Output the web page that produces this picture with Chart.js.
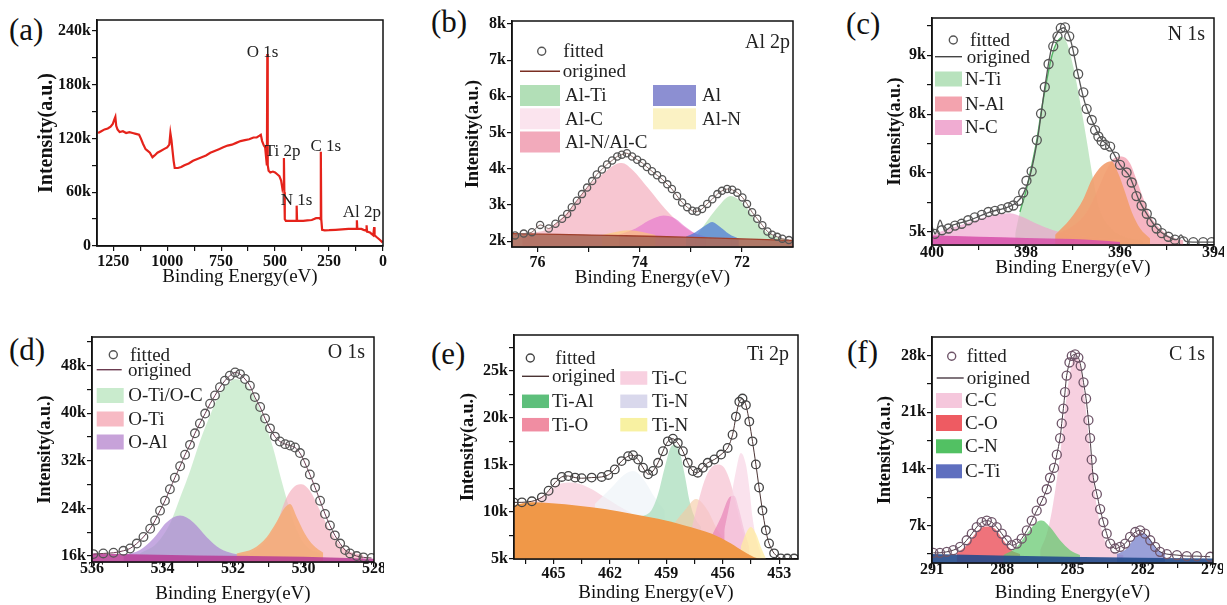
<!DOCTYPE html>
<html>
<head>
<meta charset="utf-8">
<script src="https://cdn.jsdelivr.net/npm/chart.js@4.4.1/dist/chart.umd.min.js"></script>
<style>
  html, body { margin: 0; padding: 0; background: #fff; width: 1227px; height: 605px; overflow: hidden; position: relative; }
  canvas { position: absolute; }
  .lbl { position: absolute; font: 31px 'Liberation Serif', 'Times New Roman', serif; color: #111; line-height: 1; }
</style>
</head>
<body>
<div class="lbl" style="left:9px;top:14px">(a)</div>
<div class="lbl" style="left:431px;top:6px">(b)</div>
<div class="lbl" style="left:846px;top:8px">(c)</div>
<div class="lbl" style="left:9px;top:334px">(d)</div>
<div class="lbl" style="left:431px;top:338px">(e)</div>
<div class="lbl" style="left:847px;top:336px">(f)</div>
<script>
const SERIF = "'Liberation Serif', 'Times New Roman', serif";

// ---- (a) survey spectrum, [binding energy, intensity in k]
const aSurvey = [[1320,126],[1305,128],[1290,130],[1275,131],[1262,133],[1252,136],[1245,141],[1240,144],[1236,134],[1230,130],
  [1220,127],[1205,128],[1190,126],[1175,127],[1160,126],[1145,125],[1130,124],[1122,120],[1112,114],[1100,108],[1090,106],
  [1080,104],[1068,99],[1058,101],[1045,104],[1030,106],[1015,108],[1000,110],[990,113],[985,126],[980,118],[975,106],
  [970,95],[965,87],[950,87],[935,88],[920,90],[900,92],[880,95],[860,97],[840,99],[820,101],[800,104],[780,106],[760,108],
  [740,110],[720,112],[700,113],[680,115],[660,117],[640,118],[620,119],[600,121],[585,121],[572,123],[566,124],[560,117],
  [552,112],[546,110],[541,97],[538,90],[536,214],[534,90],[530,84],[522,82],[510,83],[500,82],[490,80],[480,78],[472,73],
  [466,64],[462,68],[459,98],[457,60],[455,30],[450,28],[430,28],[410,28],[402,28],[400,45],[398,28],[390,28],[370,28],
  [350,28.5],[330,29],[310,31],[295,31],[290,30],[288,105],[286,30],[282,18],[270,17.5],[250,17.6],[220,18],[190,18.5],
  [160,19],[130,19],[122,19],[121,28.6],[119,19],[100,19],[90,18],[78,17],[76,23],[74,16],[60,15],[45,12],[41,21],[39,12],
  [30,10],[15,7],[2,4]];
const aNoteText = ['O 1s', 'Ti 2p', 'C 1s', 'N 1s', 'Al 2p'];
const aNoteX = [558, 465, 265, 400, 98];
const aNoteY = [216, 105.7, 111, 50.6, 37.4];
const aXTicks = [0,125,250,375,500,625,750,875,1000,1125,1250];
const aXMajor = [0,250,500,750,1000,1250];
const aYTicks = [0,30,60,90,120,150,180,210,240];
const aYMajor = [0,60,120,180,240];
const aYText = ['0','60k','120k','180k','240k'];

// ---- (b) Al 2p
const bFit = [[76.44,2.16],[76.27,2.21],[76.11,2.25],[75.95,2.45],[75.78,2.35],[75.65,2.48],[75.52,2.62],[75.42,2.75],
  [75.33,2.94],[75.23,3.12],[75.13,3.30],[75.03,3.48],[74.93,3.66],[74.84,3.84],[74.74,3.98],[74.64,4.12],[74.54,4.23],
  [74.44,4.34],[74.35,4.39],[74.25,4.43],[74.15,4.34],[74.05,4.25],[73.95,4.16],[73.86,4.05],[73.76,3.93],[73.66,3.82],
  [73.56,3.71],[73.46,3.57],[73.37,3.44],[73.27,3.25],[73.17,3.07],[73.07,2.94],[72.97,2.84],[72.88,2.82],[72.78,2.89],
  [72.68,3.03],[72.58,3.16],[72.48,3.30],[72.39,3.39],[72.29,3.44],[72.19,3.42],[72.09,3.34],[71.99,3.21],[71.90,3.03],
  [71.80,2.80],[71.70,2.62],[71.60,2.44],[71.50,2.27],[71.41,2.18],[71.31,2.12],[71.21,2.07],[71.08,2.03]];
const bBase = [[76.57,2.21],[75.59,2.19],[74.61,2.16],[73.63,2.13],[72.65,2.09],[71.67,2.05],[71.0,2.02]];
const bAlNAlC = [[76.3,2.2],[75.78,2.35],[75.39,2.84],[75.06,3.44],[74.74,3.84],[74.48,4.12],[74.35,4.16],[74.15,3.98],
  [73.82,3.44],[73.50,2.89],[73.17,2.44],[72.91,2.21],[72.52,2.09],[72.2,2.05]];
const bAlC = [[74.41,2.18],[74.08,2.35],[73.82,2.57],[73.53,2.71],[73.30,2.62],[73.10,2.39],[72.91,2.21],[72.71,2.12]];
const bAl = [[73.10,2.12],[72.91,2.25],[72.71,2.44],[72.58,2.53],[72.45,2.42],[72.25,2.2],[72.06,2.07]];
const bAlTi = [[72.91,2.10],[72.65,2.62],[72.45,2.98],[72.22,3.25],[72.0,3.07],[71.80,2.71],[71.61,2.35],[71.35,2.12],[71.08,2.03]];
const bAlN = [[74.74,2.17],[74.21,2.30],[73.69,2.17]];
const bXTicks = [72,73,74,75,76];
const bXMajor = [72,74,76];
const bYTicks = [2,3,4,5,6,7,8];
const bYText = ['2k','3k','4k','5k','6k','7k','8k'];

// ---- (c) N 1s (y in axis units: 5->5k, 6->6k, 7->8k, 8->9k as printed)
const cFit = [[399.94,4.97],[399.79,5.03],[399.65,5.06],[399.51,5.11],[399.37,5.14],[399.23,5.20],[399.09,5.25],[398.94,5.29],
  [398.80,5.34],[398.66,5.36],[398.52,5.39],[398.38,5.42],[398.27,5.45],[398.16,5.53],[398.06,5.67],[397.99,5.87],
  [397.88,6.03],[397.77,6.56],[397.68,7.01],[397.60,7.46],[397.52,7.85],[397.42,8.15],[397.33,8.32],[397.26,8.46],
  [397.17,8.47],[397.08,8.32],[396.99,8.07],[396.89,7.68],[396.78,7.37],[396.71,7.09],[396.60,6.90],[396.53,6.73],
  [396.46,6.62],[396.39,6.54],[396.32,6.48],[396.21,6.45],[396.11,6.28],[396.00,6.14],[395.86,6.01],[395.75,5.84],
  [395.65,5.61],[395.54,5.45],[395.43,5.31],[395.33,5.17],[395.22,5.06],[395.11,4.98],[394.97,4.92],[394.83,4.87],
  [394.65,4.84],[394.44,4.83],[394.23,4.83],[394.05,4.83]];
const cLine = [[400,5.1],[399.93,4.97],[399.83,5.2],[399.72,5.03],[399.55,5.12],[399.2,5.2],[398.8,5.33],[398.4,5.42],
  [398.2,5.5],[398.05,5.66],[397.9,6.0],[397.75,6.6],[397.6,7.45],[397.45,8.15],[397.3,8.42],[397.18,8.46],[397.05,8.25],
  [396.9,7.7],[396.75,7.2],[396.6,6.9],[396.4,6.58],[396.2,6.42],[396.0,6.14],[395.8,5.95],[395.6,5.55],[395.4,5.27],
  [395.2,5.05],[395.0,4.93],[394.8,4.87],[394.7,4.95],[394.6,4.84],[394.3,4.83],[394,4.83]];
const cStrip = [[400,4.94],[399,4.92],[398,4.90],[397,4.88],[396.5,4.86],[396,4.83]];
const cNC = [[400,4.955],[399.62,5.06],[399.19,5.17],[398.77,5.27],[398.34,5.32],[398.06,5.25],[397.77,5.14],[397.42,5.03],
  [397.06,4.96],[396.50,4.90],[395.79,4.86]];
const cNTi = [[398.23,4.97],[398.13,5.34],[397.99,5.73],[397.88,6.12],[397.77,6.56],[397.67,7.07],[397.56,7.57],[397.45,7.99],
  [397.35,8.21],[397.24,8.31],[397.13,8.21],[396.99,7.79],[396.85,7.21],[396.71,6.56],[396.57,5.89],[396.43,5.39],
  [396.21,5.08],[395.93,4.93],[395.50,4.86]];
const cNAl = [[397.35,4.97],[396.99,5.11],[396.71,5.34],[396.50,5.67],[396.28,6.06],[396.11,6.26],[395.96,6.28],[395.79,6.17],
  [395.65,5.89],[395.50,5.56],[395.36,5.28],[395.15,5.06],[394.94,4.93],[394.65,4.86]];
const cOrange = [[397.38,4.955],[397.06,5.22],[396.78,5.56],[396.60,5.89],[396.39,6.12],[396.18,6.20],[396.04,6.0],
  [395.89,5.67],[395.75,5.34],[395.57,5.06],[395.36,4.89]];
const cXTicks = [394,395,396,397,398,399,400];
const cXMajor = [394,396,398,400];
const cYTicks = [5,5.5,6,6.5,7,7.5,8,8.5];
const cYMajor = [5,6,7,8];
const cYText = ['5k','6k','8k','9k'];

// ---- (d) O 1s
const dFit = [[535.96,16.33],[535.68,16.44],[535.39,16.55],[535.11,16.88],[534.92,17.27],[534.73,18.10],[534.54,19.21],
  [534.35,20.59],[534.21,21.97],[534.07,23.63],[533.93,25.29],[533.79,27.22],[533.65,29.16],[533.50,31.09],[533.36,33.03],
  [533.22,34.68],[533.08,36.62],[532.94,38.28],[532.79,39.94],[532.65,41.59],[532.51,42.98],[532.37,44.36],[532.23,45.46],
  [532.09,46.29],[531.94,46.85],[531.80,46.57],[531.66,45.74],[531.52,44.63],[531.38,42.70],[531.23,41.04],[531.09,39.11],
  [530.95,37.45],[530.81,36.07],[530.67,35.24],[530.52,34.80],[530.38,34.57],[530.24,34.24],[530.10,33.30],[529.96,31.64],
  [529.82,29.71],[529.67,27.50],[529.53,25.29],[529.39,23.08],[529.25,21.14],[529.11,19.48],[528.96,18.10],[528.82,17.00],
  [528.68,16.44],[528.49,16.00],[528.30,15.78],[528.07,15.67]];
const dStrip = [[536,16.44],[533,16.11],[530,15.89],[528,15.56]];
const dOTiOC = [[534.64,16.44],[534.17,18.10],[533.79,21.42],[533.50,25.84],[533.22,30.26],[532.94,35.24],[532.65,39.66],
  [532.37,43.25],[532.09,45.19],[531.94,45.74],[531.71,45.19],[531.42,42.98],[531.14,39.11],[530.86,34.13],[530.62,28.60],
  [530.38,23.63],[530.15,19.76],[529.91,17.55],[529.53,16.44]];
const dOAl = [[535.11,16.17],[534.64,17.0],[534.26,18.93],[533.88,21.69],[533.50,22.80],[533.13,21.69],[532.75,19.21],
  [532.37,17.27],[532.0,16.44],[531.52,16.17]];
const dOTi = [[531.52,16.44],[531.14,18.10],[530.77,21.42],[530.48,25.84],[530.24,27.77],[530.05,28.05],[529.82,26.95],
  [529.53,23.63],[529.25,20.31],[528.96,17.82],[528.68,16.72],[528.30,16.17]];
const dOrange = [[531.90,16.44],[531.42,17.27],[531.04,19.21],[530.77,21.69],[530.52,24.18],[530.38,24.73],[530.19,22.52],
  [529.96,19.76],[529.72,17.82],[529.44,16.55]];
const dXTicks = [528,529,530,531,532,533,534,535,536];
const dXMajor = [528,530,532,534,536];
const dYTicks = [16,20,24,28,32,36,40,44,48,52];
const dYMajor = [16,24,32,40,48];
const dYText = ['16k','24k','32k','40k','48k'];

// ---- (e) Ti 2p
const eFit = [[467.12,11.02],[466.68,11.02],[466.15,11.13],[465.62,11.55],[465.26,12.25],[464.91,13.12],[464.56,13.72],
  [464.21,13.82],[463.85,13.65],[463.50,13.58],[462.97,13.65],[462.44,13.72],[462.09,13.93],[461.74,14.52],[461.38,15.40],
  [461.03,15.92],[460.77,16.03],[460.50,15.57],[460.24,14.70],[459.97,14.00],[459.71,14.35],[459.44,15.22],[459.18,16.45],
  [458.92,17.50],[458.65,17.78],[458.39,17.32],[458.12,16.45],[457.86,15.22],[457.59,14.35],[457.33,14.17],[457.06,14.70],
  [456.80,15.22],[456.45,15.57],[456.09,16.10],[455.74,16.80],[455.48,18.20],[455.30,20.13],[455.12,21.70],[454.95,22.05],
  [454.77,21.35],[454.59,19.60],[454.42,17.50],[454.24,15.05],[454.07,12.60],[453.89,10.15],[453.71,8.05],[453.54,6.65],
  [453.27,5.60],[452.92,5.07],[452.57,5.05],[452.21,5.05]];
const eBase = [[467.2,10.67],[466.15,11.02],[465.09,10.92],[463.68,10.67],[462.27,10.32],[460.86,9.80],[459.44,9.27],
  [458.03,8.57],[456.62,7.70],[455.56,6.65],[454.86,5.77],[454.15,5.07],[453.8,5.0]];
const eTiCLeft = [[466.15,11.02],[465.44,11.90],[464.74,12.95],[464.03,13.12],[463.15,12.60],[462.27,11.55],[461.56,10.67],[460.86,9.87]];
const eTiNPale = [[462.80,10.85],[461.91,12.60],[461.21,14.0],[460.77,14.35],[460.15,13.30],[459.62,11.55],[459.09,10.15]];
const eTiAl = [[460.50,9.45],[459.80,10.15],[459.44,11.90],[459.09,14.70],[458.74,16.97],[458.56,17.15],[458.30,16.45],
  [458.03,14.00],[457.77,11.20],[457.50,9.45],[457.15,8.40]];
const ePeach = [[458.74,8.40],[458.03,10.15],[457.42,11.37],[456.80,10.15],[456.27,8.05],[455.74,6.65]];
const eTiO = [[457.68,8.05],[457.33,10.85],[456.98,13.30],[456.62,14.70],[456.27,15.05],[455.92,14.70],[455.56,12.95],
  [455.30,10.85],[455.04,8.75],[454.86,7.35],[454.68,5.95]];
const eTiO2 = [[456.62,7.35],[456.09,9.45],[455.65,11.55],[455.39,11.72],[455.12,10.15],[454.86,8.05],[454.59,6.30]];
const eTiC = [[455.92,8.05],[455.56,11.55],[455.30,14.35],[455.04,16.27],[454.77,15.05],[454.59,12.60],[454.42,9.45],
  [454.24,7.35],[453.98,5.60]];
const eTiN = [[455.04,6.30],[454.77,7.70],[454.51,8.40],[454.24,7.70],[453.98,6.30],[453.71,5.07]];
const eXTicks = [453,454.5,456,457.5,459,460.5,462,463.5,465,466.5];
const eXMajor = [453,456,459,462,465];
const eYTicks = [5,7.5,10,12.5,15,17.5,20,22.5,25,27.5];
const eYMajor = [5,10,15,20,25];
const eYText = ['5k','10k','15k','20k','25k'];

// ---- (f) C 1s
const fFit = [[290.94,3.62],[290.66,3.62],[290.37,3.74],[290.09,3.95],[289.80,4.35],[289.52,5.17],[289.30,5.98],[289.09,6.80],
  [288.88,7.41],[288.66,7.61],[288.45,7.41],[288.24,6.80],[288.02,5.98],[287.81,5.17],[287.60,4.56],[287.38,4.76],
  [287.17,5.37],[286.95,6.39],[286.74,7.61],[286.53,8.83],[286.31,10.05],[286.10,11.48],[285.96,12.90],[285.79,14.12],
  [285.67,15.75],[285.53,17.79],[285.46,19.62],[285.39,21.45],[285.32,23.48],[285.25,25.52],[285.13,27.15],[285.03,27.96],
  [284.89,28.16],[284.75,27.76],[284.65,26.74],[284.53,24.70],[284.42,22.67],[284.32,20.02],[284.25,17.79],[284.18,15.14],
  [284.11,12.90],[283.96,10.87],[283.82,9.03],[283.68,7.41],[283.54,5.98],[283.39,4.76],[283.18,4.15],[282.97,4.35],
  [282.75,4.76],[282.54,5.58],[282.32,6.19],[282.11,6.39],[281.90,5.98],[281.68,5.17],[281.47,4.35],[281.26,3.74],
  [280.97,3.46],[280.54,3.34],[280.12,3.21],[279.69,3.21],[279.12,3.13]];
const fStrip = [[291,3.46],[285.3,3.13],[279,2.93]];
const fCO = [[289.95,3.54],[289.52,4.56],[289.09,6.19],[288.81,6.80],[288.59,6.88],[288.31,6.59],[287.95,5.17],[287.60,3.95],[287.24,3.46]];
const fCN = [[287.95,3.34],[287.38,4.35],[286.95,5.98],[286.53,7.41],[286.31,7.61],[285.96,6.80],[285.53,5.17],[285.10,3.95],[284.68,3.34]];
const fCC = [[286.38,3.95],[286.10,5.98],[285.89,8.63],[285.70,12.09],[285.53,15.75],[285.39,19.41],[285.25,23.08],[285.10,25.93],
  [284.96,27.55],[284.82,27.76],[284.68,26.74],[284.53,23.89],[284.39,20.23],[284.25,16.16],[284.11,12.49],[283.96,9.24],
  [283.75,6.39],[283.54,4.56],[283.25,3.62],[282.82,3.34]];
const fCTi = [[283.11,3.46],[282.68,4.15],[282.32,5.58],[282.04,6.06],[281.75,5.58],[281.40,4.15],[281.04,3.46]];
const fXTicks = [279,280.5,282,283.5,285,286.5,288,289.5,291];
const fXMajor = [279,282,285,288,291];
const fYTicks = [3.5,7,10.5,14,17.5,21,24.5,28];
const fYMajor = [7,14,21,28];
const fYText = ['7k','14k','21k','28k'];

// ---------- helpers
const pts = a => a.map(p => ({ x: p[0], y: p[1] }));
const area = (d, color, extra) => Object.assign({ data: pts(d), fill: 'start', backgroundColor: color, borderWidth: 0,
  pointRadius: 0, cubicInterpolationMode: 'monotone' }, extra || {});
const circles = (d, color, r) => ({ data: pts(d), showLine: false, pointRadius: r, pointStyle: 'circle',
  pointBorderColor: color, pointBackgroundColor: 'rgba(0,0,0,0)', pointBorderWidth: 1.3 });
const line = (d, color, w) => ({ data: pts(d), borderColor: color, borderWidth: w, pointRadius: 0, fill: false, tension: 0.3 });
const label = (v, major, text) => { const i = major.indexOf(v); return i < 0 ? '' : (text ? text[i] : String(v)); };

const decor = {
  id: 'xpsDecor',
  afterDatasetsDraw(chart, args, o) {
    const { ctx, chartArea: a, scales } = chart;
    ctx.save();
    ctx.strokeStyle = '#111';
    ctx.lineWidth = 1.5;
    ctx.strokeRect(a.left, a.top, a.right - a.left, a.bottom - a.top);
    ctx.textBaseline = 'middle';
    ctx.fillStyle = '#222';
    if (o.corner) {
      ctx.font = '20px ' + SERIF;
      ctx.textAlign = 'right';
      ctx.fillText(o.corner, a.right - o.cornerDx, a.top + o.cornerY);
    }
    if (o.notes) {
      ctx.font = '17px ' + SERIF;
      ctx.textAlign = 'center';
      o.notes.text.forEach((t, i) => {
        ctx.fillText(t, scales.x.getPixelForValue(o.notes.x[i]), scales.y.getPixelForValue(o.notes.y[i]));
      });
    }
    (o.legend || []).forEach(it => {
      const x = a.left + it.x, y = a.top + it.y;
      if (it.k === 'c') {
        ctx.beginPath(); ctx.arc(x, y, 4, 0, Math.PI * 2);
        ctx.strokeStyle = it.c; ctx.lineWidth = 1.4; ctx.stroke();
      } else if (it.k === 'l') {
        ctx.beginPath(); ctx.moveTo(x, y); ctx.lineTo(x + it.w, y);
        ctx.strokeStyle = it.c; ctx.lineWidth = 1.4; ctx.stroke();
      } else {
        ctx.fillStyle = it.c; ctx.fillRect(x, y - it.h / 2, it.w, it.h);
      }
      ctx.fillStyle = '#222';
      ctx.textAlign = 'left';
      ctx.font = '19px ' + SERIF;
      ctx.fillText(it.t, a.left + it.tx, y + 1);
    });
    ctx.restore();
  }
};

const LEFT = 72, TOP = 6, RIGHT = 10, BOTTOM = 50;

function addPanel(p) {
  const cv = document.createElement('canvas');
  const w = p.area[2] - p.area[0] + LEFT + RIGHT;
  const h = p.area[3] - p.area[1] + TOP + BOTTOM;
  cv.width = w; cv.height = h;
  cv.style.width = w + 'px'; cv.style.height = h + 'px';
  cv.style.left = (p.area[0] - LEFT) + 'px';
  cv.style.top = (p.area[1] - TOP) + 'px';
  document.body.appendChild(cv);
  const tickFont = { family: SERIF, size: 16, weight: 'bold', lineHeight: 1 };
  new Chart(cv, {
    type: 'line',
    data: { datasets: p.datasets },
    options: {
      responsive: false, animation: false, devicePixelRatio: 1,
      layout: { padding: { left: 0, top: TOP, right: RIGHT, bottom: 0 } },
      plugins: { legend: { display: false }, tooltip: { enabled: false }, xpsDecor: p.decor },
      scales: {
        x: {
          type: 'linear', reverse: true, min: p.x[0], max: p.x[1],
          afterFit: s => { s.height = BOTTOM; },
          afterBuildTicks: s => { s.ticks = p.xTicks.map(v => ({ value: v })); },
          ticks: { callback: v => label(v, p.xMajor), font: tickFont, color: '#111', padding: p.xPad, maxRotation: 0, autoSkip: false },
          grid: { drawOnChartArea: false, tickLength: 5, color: '#111', lineWidth: 1.2 },
          border: { color: '#111', width: 1.5 },
          title: { display: true, text: 'Binding Energy(eV)', color: '#111', font: { family: SERIF, size: 19 },
                   padding: { top: 0, bottom: p.xTitlePad } }
        },
        y: {
          type: 'linear', min: p.y[0], max: p.y[1],
          afterFit: s => { s.width = LEFT; },
          afterBuildTicks: s => { s.ticks = p.yTicks.map(v => ({ value: v })); },
          ticks: { callback: v => label(v, p.yMajor, p.yText), font: tickFont, color: '#111', padding: 1, autoSkip: false },
          grid: { drawOnChartArea: false, tickLength: 5, color: '#111', lineWidth: 1.2 },
          border: { color: '#111', width: 1.5 },
          title: { display: true, text: 'Intensity(a.u.)', color: '#111',
                   font: { family: SERIF, size: p.yTitleSize || 18, weight: 'bold' },
                   padding: { top: p.yTitlePad, bottom: 0 } }
        }
      }
    },
    plugins: [decor]
  });
}

// (a)
addPanel({
  area: [97, 17, 383, 246], x: [0, 1325], y: [0, 252],
  xTicks: aXTicks, xMajor: aXMajor, yTicks: aYTicks, yMajor: aYMajor, yText: aYText,
  xPad: 3, xTitlePad: 7.6, yTitlePad: 10, yTitleSize: 20,
  decor: { notes: { text: aNoteText, x: aNoteX, y: aNoteY } },
  datasets: [ { data: pts(aSurvey), borderColor: '#e5231b', borderWidth: 2.2, pointRadius: 0, tension: 0, fill: false } ]
});

// (b)
addPanel({
  area: [512, 18, 793, 247], x: [71.0, 76.5], y: [1.84, 8.08],
  xTicks: bXTicks, xMajor: bXMajor, yTicks: bYTicks, yMajor: bYTicks, yText: bYText,
  xPad: 3, xTitlePad: 7.6, yTitlePad: 22.2,
  decor: {
    corner: 'Al 2p', cornerDx: 3, cornerY: 22,
    legend: [
      { k: 'c', x: 29.7, y: 30.3, tx: 51.3, t: 'fitted', c: '#555' },
      { k: 'l', x: 8, w: 40, y: 50.3, tx: 50.7, t: 'origined', c: '#7a2e22' },
      { k: 'b', x: 8, w: 40, y: 74.5, h: 21, tx: 53, t: 'Al-Ti', c: 'rgba(170,220,175,0.9)' },
      { k: 'b', x: 8, w: 40, y: 97.8, h: 21, tx: 53, t: 'Al-C', c: '#fbe4ee' },
      { k: 'b', x: 8, w: 40, y: 121, h: 21, tx: 53, t: 'Al-N/Al-C', c: '#f2aabb' },
      { k: 'b', x: 141, w: 43, y: 74.5, h: 21, tx: 190, t: 'Al', c: '#8c8fd2' },
      { k: 'b', x: 141, w: 43, y: 97.8, h: 21, tx: 190, t: 'Al-N', c: '#fbf2c4' }
    ]
  },
  datasets: [
    circles(bFit, '#555', 3.6),
    line(bFit, '#8a6a66', 1),
    area(bBase, 'rgba(172,108,92,0.9)', { borderWidth: 1.3, borderColor: '#a0402c' }),
    area(bAlN, 'rgba(255,205,110,0.6)'),
    area(bAl, 'rgba(80,125,215,0.75)'),
    area(bAlC, 'rgba(228,110,205,0.6)'),
    area(bAlTi, 'rgba(170,222,172,0.65)'),
    area(bAlNAlC, 'rgba(242,160,178,0.6)')
  ]
});

// (c)
addPanel({
  area: [932, 15, 1214, 245], x: [394, 400], y: [4.78, 8.63],
  xTicks: cXTicks, xMajor: cXMajor, yTicks: cYTicks, yMajor: cYMajor, yText: cYText,
  xPad: -5, xTitlePad: 15.6, yTitlePad: 24.2,
  decor: {
    corner: 'N 1s', cornerDx: 9, cornerY: 17,
    legend: [
      { k: 'c', x: 21.3, y: 22, tx: 38, t: 'fitted', c: '#555' },
      { k: 'l', x: 3, w: 27, y: 38.7, tx: 34.7, t: 'origined', c: '#444' },
      { k: 'b', x: 3, w: 27, y: 61, h: 15, tx: 33, t: 'N-Ti', c: '#b8e2bd' },
      { k: 'b', x: 3, w: 27, y: 86, h: 15, tx: 33, t: 'N-Al', c: '#f3a3ae' },
      { k: 'b', x: 3, w: 27, y: 109.5, h: 15, tx: 33, t: 'N-C', c: '#f0acd2' }
    ]
  },
  datasets: [
    circles(cFit, '#555', 4.5),
    line(cLine, '#555', 1.3),
    Object.assign(line(cNTi.slice(1, 10), 'rgba(60,170,80,0.85)', 1.4), { cubicInterpolationMode: 'monotone' }),
    area(cStrip, 'rgba(215,80,170,0.85)'),
    area(cOrange, 'rgba(242,160,112,0.92)'),
    area(cNAl, 'rgba(242,150,168,0.7)'),
    area(cNC, 'rgba(238,160,205,0.65)'),
    area(cNTi, 'rgba(172,222,176,0.7)')
  ]
});

// (d)
addPanel({
  area: [92, 334, 374, 562], x: [528, 536], y: [15.0, 52.8],
  xTicks: dXTicks, xMajor: dXMajor, yTicks: dYTicks, yMajor: dYMajor, yText: dYText,
  xPad: -6, xTitlePad: 6.6, yTitlePad: 14.2,
  decor: {
    corner: 'O 1s', cornerDx: 9, cornerY: 16,
    legend: [
      { k: 'c', x: 21.3, y: 17.7, tx: 38, t: 'fitted', c: '#555' },
      { k: 'l', x: 4.7, w: 25, y: 32.7, tx: 36, t: 'origined', c: '#6b3b50' },
      { k: 'b', x: 4.7, w: 27, y: 58.5, h: 15, tx: 36.3, t: 'O-Ti/O-C', c: '#c9ebcd' },
      { k: 'b', x: 4.7, w: 27, y: 82, h: 15, tx: 36.3, t: 'O-Ti', c: '#f7bac4' },
      { k: 'b', x: 4.7, w: 27, y: 105, h: 15, tx: 36.3, t: 'O-Al', c: '#c7a2d9' }
    ]
  },
  datasets: [
    circles(dFit, '#555', 4.3),
    line(dFit, '#6b3b50', 1),
    area(dStrip, 'rgba(185,60,150,0.85)'),
    area(dOrange, 'rgba(245,172,122,0.9)'),
    area(dOTi, 'rgba(245,172,188,0.65)'),
    area(dOAl, 'rgba(172,132,212,0.7)'),
    area(dOTiOC, 'rgba(178,226,184,0.6)')
  ]
});

// (e)
addPanel({
  area: [514, 332, 798, 559], x: [452, 467.1], y: [5, 28.8],
  xTicks: eXTicks, xMajor: eXMajor, yTicks: eYTicks, yMajor: eYMajor, yText: eYText,
  xPad: 2, xTitlePad: 4.6, yTitlePad: 15.2,
  decor: {
    corner: 'Ti 2p', cornerDx: 9, cornerY: 19.7,
    legend: [
      { k: 'c', x: 16.3, y: 23, tx: 41.3, t: 'fitted', c: '#444' },
      { k: 'l', x: 8, w: 27, y: 41.3, tx: 38, t: 'origined', c: '#4a3333' },
      { k: 'b', x: 8, w: 27, y: 66.3, h: 13.5, tx: 38, t: 'Ti-Al', c: '#5dbf7b' },
      { k: 'b', x: 8, w: 27, y: 89.7, h: 13.5, tx: 38, t: 'Ti-O', c: '#f08da2' },
      { k: 'b', x: 106.3, w: 27, y: 43, h: 13.5, tx: 138, t: 'Ti-C', c: '#f8d0e0' },
      { k: 'b', x: 106.3, w: 27, y: 66.3, h: 13.5, tx: 138, t: 'Ti-N', c: '#d9d8ec' },
      { k: 'b', x: 106.3, w: 27, y: 89.7, h: 13.5, tx: 138, t: 'Ti-N', c: '#f8f1a2' }
    ]
  },
  datasets: [
    circles(eFit, '#444', 4.3),
    line(eFit, '#4a3333', 1),
    area(eBase, 'rgba(240,152,72,1)'),
    area(eTiN, 'rgba(255,236,160,0.75)'),
    area(eTiC, 'rgba(248,214,230,0.7)'),
    area(eTiO2, 'rgba(230,120,180,0.6)'),
    area(eTiO, 'rgba(246,192,208,0.7)'),
    area(ePeach, 'rgba(245,200,160,0.6)'),
    area(eTiAl, 'rgba(170,222,188,0.75)'),
    area(eTiNPale, 'rgba(238,244,248,0.7)'),
    area(eTiCLeft, 'rgba(246,202,216,0.7)')
  ]
});

// (f)
addPanel({
  area: [932, 334, 1213, 563], x: [279, 291], y: [2.36, 30.3],
  xTicks: fXTicks, xMajor: fXMajor, yTicks: fYTicks, yMajor: fYMajor, yText: fYText,
  xPad: -6, xTitlePad: 8.6, yTitlePad: 14.2,
  decor: {
    corner: 'C 1s', cornerDx: 8, cornerY: 17.7,
    legend: [
      { k: 'c', x: 19.7, y: 19.3, tx: 34.7, t: 'fitted', c: '#6e5468' },
      { k: 'l', x: 4.7, w: 27, y: 41, tx: 34.7, t: 'origined', c: '#4a3a44' },
      { k: 'b', x: 4, w: 26, y: 63.5, h: 15, tx: 33, t: 'C-C', c: '#f5c7dc' },
      { k: 'b', x: 4, w: 26, y: 86, h: 16, tx: 33, t: 'C-O', c: '#ee5b62' },
      { k: 'b', x: 4, w: 26, y: 109.3, h: 14, tx: 33, t: 'C-N', c: '#52c163' },
      { k: 'b', x: 4, w: 26, y: 134.3, h: 14, tx: 33, t: 'C-Ti', c: '#5f6fbf' }
    ]
  },
  datasets: [
    circles(fFit, '#6e5468', 4.5),
    line(fFit, '#4a3a44', 1),
    area(fStrip, 'rgba(35,75,140,0.9)'),
    area(fCTi, 'rgba(110,120,200,0.7)'),
    area(fCN, 'rgba(100,200,110,0.72)'),
    area(fCO, 'rgba(235,80,90,0.8)'),
    area(fCC, 'rgba(245,196,216,0.8)')
  ]
});
</script>
</body>
</html>
